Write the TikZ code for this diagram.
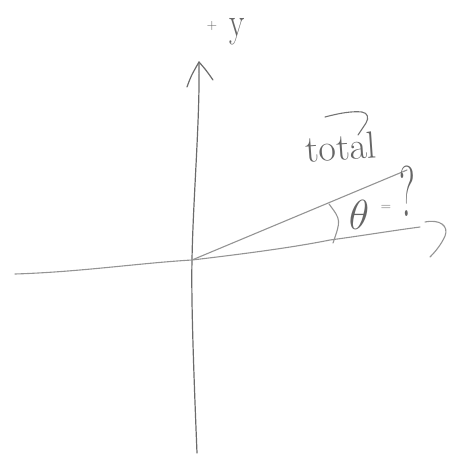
\documentclass[tikz,border=0pt]{standalone}
\usepackage{fix-cm}
\begin{document}
\begin{tikzpicture}[x=1pt,y=-1pt,
  pencil/.style={draw=black!42, line width=1.1pt, line cap=round, line join=round},
  darkpencil/.style={draw=black!58, line width=1.2pt, line cap=round, line join=round},
  hand/.style={text=black!60, inner sep=0pt, outer sep=0pt}]
\useasboundingbox (0,0) rectangle (453,457);
% key points
\coordinate (O) at (192,260);
\coordinate (ytop) at (199,62);
\coordinate (ybot) at (197,453);
\coordinate (xl) at (15,274);
\coordinate (xr) at (420,227);
\coordinate (T) at (407,170);
\coordinate (al) at (187,87);
\coordinate (ar) at (213,80);
% y axis
\draw[darkpencil] (ybot) .. controls (194,380) and (191,300) .. (O) .. controls (193,200) and (200,120) .. (ytop);
\draw[darkpencil] (al) .. controls (191,76) .. (ytop) .. controls (206,70) .. (ar);
% x axis
\draw[pencil] (xl) .. controls (80,272) and (140,263) .. (O) .. controls (260,252) and (300,246) .. (330,240) .. controls (360,236) and (390,231) .. (xr);
\draw[pencil] (425,222) .. controls (440,219) and (449,226) .. (445,236) .. controls (441,245) and (435,252) .. (430,257);
% total vector
\draw[pencil] (O) -- (T);
% angle arc
\draw[pencil] (329,204) .. controls (341,220) .. (333,243);
% labels
\node[hand, font=\fontsize{14}{14}\selectfont] (plus) at (212,26) {+};
\node[hand, font=\fontsize{42}{42}\selectfont, xscale=0.75, anchor=north] (ylab) at (237,18) {y};
\node[hand, font=\fontsize{38}{38}\selectfont, rotate=4] (total) at (341,147) {total};
\draw[pencil, draw=black!55] (325,117) .. controls (340,113) and (352,111) .. (362,112) .. controls (368,113) and (369,118) .. (366,123) -- (358,135);
\node[hand, font=\fontsize{42}{42}\selectfont] (theta) at (359,215) {$\theta$};
\node[hand, font=\fontsize{14}{14}\selectfont] (eq) at (386,208) {=};
\node[hand, font=\fontsize{72}{72}\selectfont, xscale=0.5] (q) at (407,191) {?};
\end{tikzpicture}
\end{document}
